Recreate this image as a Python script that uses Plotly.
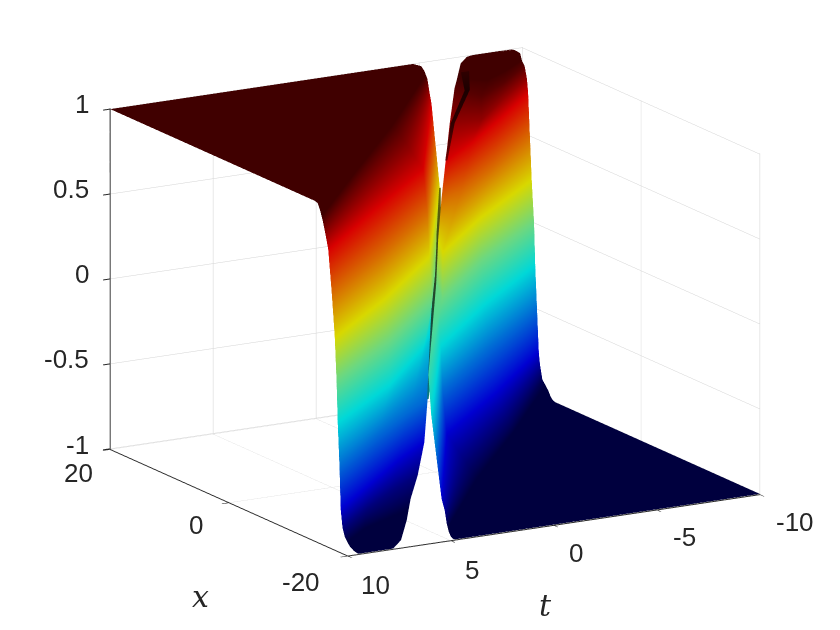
import plotly.graph_objects as go

t_ticks = [-10, -5, 0, 5, 10]
x_ticks = [-20, 0, 20]
z_ticks = [-1, -0.5, 0, 0.5, 1]
t_labels = ["-10", "-5", "0", "5", "10"]
x_labels = ["-20", "0", "20"]
z_labels = ["-1", "-0.5", "0", "0.5", "1"]

# height of each contour row
z_levels_a = [1, 1, 0.995, 0.98, 0.95, 0.9, 0.82, 0.75, 0.5, 0.25, 0, -0.12, -0.25, -0.5, -0.75, -0.85, -0.9, -0.95, -0.98, -1]
t_a = [
    [10, 5, 0, -4.7],
    [10, 5, 0, -4.7],
    [10, 5, 0, -4.8],
    [10, 5, 0, -5.1],
    [10, 5, 0, -5.25],
    [10, 5, 0, -5.4],
    [10, 5, 0, -5.5],
    [10, 5, 0, -5.6],
    [10, 5, 0, -5.8],
    [10, 5, 0, -6],
    [10, 5, 0, -4.44],
    [10, 5, 0.3, -2.7],
    [10, 5, 0.8, -1.6],
    [10, 6, 3, 1.25],
    [10, 7, 4, 1.5],
    [10, 7.5, 5, 3],
    [10, 8, 6, 4.5],
    [9.9, 8.5, 7, 5.7],
    [9.7, 9, 8, 7.1],
    [9.5, 9.1, 8.6, 7.8],
]
x_a = [
    [20, 20, 20, 20],
    [-14.4, -2.6, 9, 20],
    [-14.9, -3, 8.6, 20],
    [-15.1, -3.3, 8.3, 20],
    [-15.4, -3.8, 7.8, 20],
    [-15.8, -4.5, 6.5, 20],
    [-16.3, -6, 4, 20],
    [-16.7, -7.2, 2, 20],
    [-17.3, -8.3, 1.3, 20],
    [-17.8, -8.9, 1, 20],
    [-18.1, -9.5, 0.5, 14.9],
    [-18.2, -9.6, 0, 9.3],
    [-18.3, -9.8, -0.8, 5.9],
    [-18.6, -11.2, -6, -3.1],
    [-18.8, -13.2, -7.6, -3.4],
    [-19.1, -14.6, -10.5, -7.5],
    [-19.5, -16, -13.5, -11.5],
    [-20, -17.5, -16, -15],
    [-20, -19.3, -19, -18.9],
    [-20, -20, -20, -20],
]

z_levels_b = [1, 0.995, 0.97, 0.92, 0.9, 0.83, 0.75, 0.5, 0.25, 0, -0.12, -0.25, -0.5, -0.75, -0.82, -0.9, -0.95, -0.98, -0.995, -1, -1]
t_b = [
    [-9.4, -9, -8.4, -7.56],
    [-9.6, -9, -8.3, -7.32],
    [-9.9, -9, -8, -6.9],
    [-10, -8.5, -7, -6.07],
    [-10, -8, -6, -5.62],
    [-10, -7.5, -5, -3.57],
    [-10, -7, -4, -1.5],
    [-10, -6, -3, -1.7],
    [-10, -5, -0.9, -1.8],
    [-10, -5, -0.5, -1.5],
    [-10, -5, 0, 4.56],
    [-10, -5, 0, 5.95],
    [-10, -5, 0, 5.7],
    [-10, -5, 0, 5.45],
    [-10, -5, 0, 5.3],
    [-10, -5, 0, 5.2],
    [-10, -5, 0, 5.1],
    [-10, -5, 0, 5],
    [-10, -5, 0, 4.9],
    [-10, -5, 0, 4.8],
    [-10, -5, 0, 4.8],
]
x_b = [
    [20, 20, 20, 20],
    [20, 20, 19.8, 20],
    [20, 19.5, 19.2, 19.6],
    [20, 17.5, 15.5, 17.4],
    [19.6, 16, 13, 16.2],
    [19.2, 14.5, 9.5, 9.9],
    [19, 13.2, 7.6, 3.4],
    [18.7, 11.2, 6, 4.8],
    [18.4, 9.8, 1.8, 5.7],
    [18, 9.5, 0.5, 5],
    [17.9, 9.2, -0.7, -14.7],
    [17.8, 8.9, -1, -20],
    [17.5, 8.3, -1.3, -20],
    [17.2, 7.2, -2, -20],
    [17, 6, -4, -20],
    [16.6, 4.5, -6.5, -20],
    [15.6, 3.8, -7.8, -20],
    [15.2, 3.3, -8.3, -20],
    [14.8, 3, -8.6, -20],
    [14.4, 2.6, -9, -20],
    [-20, -20, -20, -20],
]

# the dark pinched seam where the two walls cross
seam_t_left = [-5.04, -3.56, -1.84, -0.72, 2.21]
seam_t_right = [-4.96, -3.32, -1.56, -0.48, 2.29]
seam_x = [16.5, 11.4, 5.8, 2.4, -6.6]
seam_z = [0.32, 0.07, -0.05, -0.18, -0.43]
seam_shade = [0, 0.25, 0.5, 0.75, 1]
seam_scale = [[0, "#6a6a08"], [0.25, "#3c4a14"], [0.5, "#24482a"], [0.75, "#164a3c"], [1, "#0a7a80"]]

# the almost black fold along the left side of the right-hand wall
fold_t_left = [-5.9, -5.1, -2.6, -0.5]
fold_t_right = [-6.3, -5.35, -2.8, -0.6]
fold_x = [16.1, 12.7, 6.4, 0]
fold_z = [0.99, 0.95, 0.9, 0.82]
fold_shade = [0, 0.3, 0.7, 1]
fold_scale = [[0, "#300000"], [0.3, "#1c0000"], [0.7, "#300000"], [1, "#700000"]]

jet_dark = [
    [0.0, "#00003e"], [0.035, "#00003e"], [0.125, "#0000d2"], [0.375, "#00d8d8"],
    [0.5, "#6cd880"], [0.625, "#d8d800"], [0.875, "#d80000"], [0.965, "#400000"], [1.0, "#400000"],
]
flat = dict(ambient=1, diffuse=0, specular=0, roughness=1, fresnel=0)

x_label_shift = [(-47, 27), (-33, 23), (-32, 24)]
t_label_shift = [(35, 28), (28, 28), (22, 29), (21, 30), (28, 30)]
z_label_shift = [(-19, -4), (-19, -5), (-19, -5), (-19, -5), (-19, -5)]


def wall(levels, ts, xs):
    zs = [[v] * len(ts[0]) for v in levels]
    return go.Surface(x=xs, y=ts, z=zs, surfacecolor=zs, colorscale=jet_dark, cmin=-1, cmax=1,
                      showscale=False, lighting=flat, hoverinfo="skip")


def ribbon(t_left, t_right, xs, zs, shade, scale):
    return go.Surface(x=[[v, v] for v in xs], y=[list(p) for p in zip(t_left, t_right)],
                      z=[[v, v] for v in zs], surfacecolor=[[v, v] for v in shade],
                      colorscale=scale, cmin=0, cmax=1, showscale=False, lighting=flat, hoverinfo="skip")


fig = go.Figure([
    wall(z_levels_a, t_a, x_a),
    wall(z_levels_b, t_b, x_b),
    ribbon(seam_t_left, seam_t_right, seam_x, seam_z, seam_shade, seam_scale),
    ribbon(fold_t_left, fold_t_right, fold_x, fold_z, fold_shade, fold_scale),
])

label_font = dict(family="Liberation Sans, Arial", size=26, color="#262626")
common = dict(showbackground=False, showspikes=False, showline=True, linecolor="#262626", linewidth=2,
              gridcolor="#d4d4d4", gridwidth=1, zeroline=False, ticks="outside", ticklen=8, tickwidth=2,
              tickcolor="#262626", showticklabels=False, title=dict(text=""))


def label(text, x, t, z, shift, anchor="center"):
    return dict(text=text, x=x, y=t, z=z, showarrow=False, xanchor=anchor, yanchor="middle",
                xshift=shift[0], yshift=-shift[1], font=label_font)


labels = [label(s, v, 10, -1, d) for s, v, d in zip(x_labels, x_ticks, x_label_shift)]
labels += [label(s, -20, v, -1, d) for s, v, d in zip(t_labels, t_ticks, t_label_shift)]
labels += [label(s, 20, 10, v, d, "right") for s, v, d in zip(z_labels, z_ticks, z_label_shift)]

title_font = dict(family="DejaVu Serif", size=30, color="#262626")

fig.update_layout(
    width=840, height=630, margin=dict(l=0, r=0, t=0, b=0), paper_bgcolor="white", showlegend=False,
    scene=dict(
        domain=dict(x=[0.017, 1], y=[0.0686, 1]),
        xaxis=dict(range=[-20, 20], tickvals=x_ticks, **common),
        yaxis=dict(range=[-10, 10], tickvals=t_ticks, **common),
        zaxis=dict(range=[-1.004, 1.004], tickvals=z_ticks, **common),
        aspectmode="manual", aspectratio=dict(x=1.621, y=1.621, z=1.203),
        camera=dict(projection=dict(type="orthographic"), up=dict(x=0, y=0, z=1),
                    center=dict(x=0, y=0, z=0), eye=dict(x=-0.945, y=0.545, z=0.292)),
        annotations=labels,
    ),
    annotations=[
        dict(text="<i>x</i>", x=192 / 840, y=(630 - 588) / 630, xref="paper", yref="paper", showarrow=False,
             xanchor="center", yanchor="middle", font=title_font),
        dict(text="<i>t</i>", x=537 / 840, y=(630 - 597) / 630, xref="paper", yref="paper", showarrow=False,
             xanchor="center", yanchor="middle", font=title_font),
    ],
)
fig.write_html("out.html")
